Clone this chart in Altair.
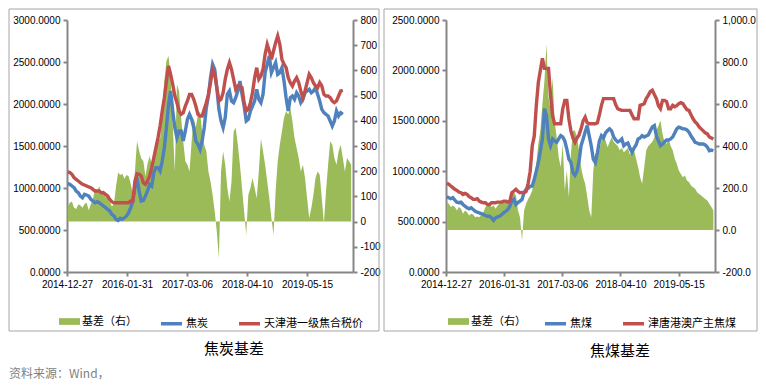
import altair as alt
import pandas as pd

GREEN = "#9BBB59"
BLUE = "#4F81BD"
RED = "#C0504D"
FONT_NUM = "Liberation Sans"
FONT_CJK = "Noto Sans CJK SC"

# ---------------- left panel: coke ----------------
coke_dates = pd.date_range("2015-01-01", periods=136, freq="14D")
coke_names = ["基差（右）", "焦炭", "天津港一级焦合税价"]
coke_basis = [
    60, 75, 80, 55, 50, 68, 65, 55, 70, 75,
    45, 70, 90, 130, 120, 140, 110, 125, 95, 110,
    80, 60, 70, 140, 195, 185, 190, 170, 185, 180,
    150, 110, 200, 320, 280, 250, 240, 180, 230, 260,
    226, 252, 279, 319, 332, 425, 558, 637, 657, 571,
    385, 199, 545, 518, 412, 319, 239, 226, 199, 319,
    412, 372, 425, 438, 358, 305, 279, 199, 159, 106,
    40, -40, -146, 199, 279, 226, 133, 80, 159, 358,
    372, 305, 226, 133, 40, -53, 106, 133, 173, 133,
    93, 199, 330, 279, 226, 159, 93, 13, -53, 120,
    239, 305, 358, 412, 438, 425, 452, 398, 332, 292,
    252, 199, 226, 173, 93, 13, 53, 106, 173, 199,
    186, 93, -7, 120, 226, 319, 305, 252, 226, 279,
    305, 252, 199, 252, 239, 226,
]
coke_futures = [
    1052, 1044, 1024, 1004, 964, 944, 905, 885, 925, 917,
    905, 865, 845, 825, 837, 825, 806, 786, 766, 746,
    726, 686, 667, 627, 615, 639, 627, 646, 667, 706,
    766, 845, 1004, 1123, 964, 845, 853, 905, 964, 1044,
    1024, 1182, 1242, 1242, 1202, 1321, 1480, 1718, 1996, 2155,
    1917, 1718, 1599, 1679, 1679, 1560, 1679, 1818, 1877, 1818,
    1718, 1560, 1520, 1460, 1560, 1718, 1956, 2095, 2313, 2473,
    2413, 2194, 1937, 1798, 1718, 1837, 2115, 2155, 2036, 2016,
    2075, 2155, 2274, 2115, 1976, 1798, 1818, 1917, 1976, 2036,
    2175, 2056, 2016, 2115, 2373, 2473, 2571, 2373, 2433, 2492,
    2353, 2373, 2433, 2274, 2075, 1917, 2075, 2095, 2056, 2135,
    2095, 2016, 2056, 2135, 2155, 2175, 2135, 2155, 2194, 2115,
    2036, 1937, 1897, 1877, 1857, 1798, 1738, 1798, 1917, 1857,
    1897, 1877, None, None, None, None,
]
coke_spot = [
    1190, 1185, 1163, 1123, 1103, 1083, 1063, 1044, 1036, 1024,
    1012, 1004, 984, 964, 964, 964, 944, 944, 925, 905,
    865, 837, 825, 825, 825, 825, 825, 825, 825, 825,
    845, 845, 1083, 1170, 1163, 1143, 1063, 1044, 1083, 1143,
    1242, 1361, 1480, 1600, 1740, 1917, 2075, 2274, 2452, 2353,
    2234, 2095, 2016, 1917, 1877, 1897, 1976, 2036, 2115, 2115,
    2056, 1976, 1877, 1857, 1857, 1937, 2016, 2115, 2254, 2413,
    2353, 2194, 2036, 2056, 2135, 2294, 2413, 2492, 2413, 2294,
    2175, 2214, 2214, 2194, 2016, 1917, 1937, 2016, 2135, 2313,
    2432, 2294, 2333, 2413, 2591, 2710, 2631, 2532, 2631, 2730,
    2810, 2710, 2532, 2473, 2433, 2313, 2254, 2214, 2274, 2313,
    2254, 2155, 2075, 2155, 2254, 2353, 2313, 2254, 2214, 2194,
    2254, 2214, 2115, 2095, 2095, 2075, 2036, 2016, 2036, 2095,
    2155, 2163, None, None, None, None,
]

# ---------------- right panel: coking coal ----------------
coal_dates = pd.date_range("2015-01-01", periods=132, freq="14D")
coal_names = ["基差（右）", "焦煤", "津唐港澳产主焦煤"]
coal_basis = [
    132, 125, 109, 117, 109, 93, 109, 101, 77, 93,
    85, 69, 77, 74, 61, 64, 61, 74, 85, 109,
    117, 125, 109, 117, 101, 117, 128, 137, 132, 140,
    128, 148, 172, 180, 164, 93, 61, -50, 93, 125,
    148, 164, 188, 251, 315, 410, 474, 600, 711, 886,
    632, 569, 727, 521, 442, 347, 299, 410, 188, 283,
    156, 362, 474, 473, 442, 378, 300, 251, 220, 160,
    93, 61, 283, 363, 378, 378, 426, 442, 426, 394,
    418, 442, 420, 410, 400, 380, 390, 370, 380, 390,
    360, 370, 380, 340, 300, 251, 220, 299, 378, 400,
    410, 420, 440, 474, 497, 521, 458, 418, 410, 434,
    400, 380, 340, 315, 283, 267, 251, 259, 236, 228,
    212, 204, 196, 180, 172, 164, 156, 148, 140, 125,
    109, 93,
]
coal_futures = [
    747, 737, 727, 737, 713, 693, 687, 693, 670, 653,
    637, 627, 637, 620, 603, 593, 587, 580, 570, 560,
    553, 553, 537, 513, 537, 547, 553, 570, 587, 603,
    620, 653, 703, 720, 670, 690, 703, 720, 790, 820,
    830, 850, 853, 920, 1000, 1087, 1200, 1320, 1620, 1553,
    1320, 1253, 1320, 1300, 1287, 1320, 1353, 1340, 1300, 1220,
    1120, 1087, 987, 960, 1000, 1100, 1253, 1320, 1390, 1453,
    1350, 1250, 1120, 1087, 1180, 1300, 1353, 1330, 1380, 1403,
    1420, 1400, 1340, 1310, 1290, 1300, 1320, 1253, 1270, 1280,
    1230, 1187, 1230, 1260, 1320, 1330, 1353, 1340, 1350, 1360,
    1400, 1440, 1453, 1350, 1300, 1253, 1270, 1290, 1310, 1310,
    1320, 1340, 1380, 1420, 1437, 1430, 1420, 1420, 1410, 1387,
    1350, 1320, 1287, 1280, 1270, 1270, 1270, 1260, 1240, 1203,
    1210, 1203,
]
coal_spot = [
    880, 870, 853, 837, 820, 810, 793, 787, 770, 780,
    770, 747, 737, 720, 720, 727, 703, 693, 687, 687,
    670, 670, 687, 687, 687, 693, 693, 693, 703, 703,
    693, 703, 787, 803, 820, 800, 787, 790, 787, 800,
    880, 1000, 1250, 1350, 1650, 1880, 2000, 2120, 2020, 2020,
    2020, 1753, 1550, 1470, 1470, 1470, 1470, 1620, 1703, 1703,
    1520, 1400, 1330, 1287, 1330, 1360, 1420, 1500, 1537, 1480,
    1470, 1470, 1470, 1470, 1480, 1560, 1653, 1720, 1720, 1720,
    1720, 1720, 1720, 1660, 1620, 1610, 1603, 1603, 1603, 1603,
    1603, 1560, 1520, 1520, 1520, 1653, 1660, 1670, 1720, 1753,
    1790, 1803, 1760, 1720, 1650, 1620, 1703, 1703, 1690, 1620,
    1620, 1653, 1640, 1650, 1670, 1680, 1670, 1640, 1610, 1603,
    1560, 1520, 1490, 1470, 1440, 1420, 1400, 1380, 1370, 1340,
    1330, 1320,
]

x_tick_dates = [(2014, 12, 27), (2016, 1, 31), (2017, 3, 6), (2018, 4, 10), (2019, 5, 15)]
x_start = (2014, 12, 27)


def dt(t):
    return alt.DateTime(year=t[0], month=t[1], date=t[2])


one = pd.DataFrame({"k": [0]})


def panel(dates, names, basis, fut, spot, x_end, w, h,
          left_dom, left_vals, left_fmt, right_dom, right_vals, right_fmt,
          fill_lx, stroke_lx, leg_y, box, title, title_xy, source_xy=None):
    basis_df = pd.DataFrame({"date": dates, "value": basis, "series": names[0]})
    line_df = pd.concat([
        pd.DataFrame({"date": dates, "value": fut, "series": names[1]}),
        pd.DataFrame({"date": dates, "value": spot, "series": names[2]}),
    ], ignore_index=True)

    x_enc = alt.X(
        "date:T",
        scale=alt.Scale(domain=[dt(x_start), dt(x_end)]),
        axis=alt.Axis(values=[dt(t) for t in x_tick_dates], format="%Y-%m-%d",
                      title=None, labelFlush=False, labelOverlap=False),
    )

    right_expr = "(datum.value < 0 ? '-' : '') + format(abs(datum.value), '%s')" % right_fmt

    area = alt.Chart(basis_df).mark_area().encode(
        x=x_enc,
        y=alt.Y("value:Q",
                scale=alt.Scale(domain=right_dom, nice=False, zero=False),
                axis=alt.Axis(orient="right", values=right_vals, labelExpr=right_expr,
                              title=None, labelFlush=False)),
        y2=alt.datum(0),
        fill=alt.Fill("series:N",
                      scale=alt.Scale(domain=[names[0]], range=[GREEN]),
                      legend=alt.Legend(title=None, orient="none", legendX=fill_lx, legendY=leg_y,
                                        direction="horizontal", padding=0,
                                        symbolType="M-1,-0.32H1V0.32H-1Z", symbolSize=441,
                                        symbolStrokeWidth=0, labelFont=FONT_CJK,
                                        labelFontSize=11, labelColor="#000000", labelOffset=2)),
    )

    lines = alt.Chart(line_df).mark_line(strokeWidth=3.4).encode(
        x=x_enc,
        y=alt.Y("value:Q",
                scale=alt.Scale(domain=left_dom, nice=False, zero=False),
                axis=alt.Axis(orient="left", values=left_vals, format=left_fmt,
                              title=None, labelFlush=False)),
        stroke=alt.Stroke("series:N",
                          scale=alt.Scale(domain=names[1:], range=[BLUE, RED]),
                          legend=alt.Legend(title=None, orient="none", legendX=stroke_lx, legendY=leg_y,
                                            direction="horizontal", padding=0,
                                            symbolType="stroke", symbolSize=441,
                                            symbolStrokeWidth=3.5, columnPadding=24,
                                            labelFont=FONT_CJK, labelFontSize=11,
                                            labelColor="#000000", labelOffset=2)),
    )

    frame = alt.Chart(one).mark_rect(fill="transparent", stroke="#a6a6a6", strokeWidth=1).encode(
        x=alt.value(box[0]), x2=alt.value(box[1]), y=alt.value(box[2]), y2=alt.value(box[3])
    )
    title_txt = alt.Chart(one).mark_text(
        text=title, font=FONT_CJK, fontSize=15, color="#000000", align="center", baseline="middle"
    ).encode(x=alt.value(title_xy[0]), y=alt.value(title_xy[1]))

    layers = [frame, area, lines, title_txt]
    if source_xy is not None:
        src = alt.Chart(one).mark_text(
            text="资料来源：Wind，", font=FONT_CJK, fontSize=12, color="#7f7f7f",
            align="left", baseline="middle"
        ).encode(x=alt.value(source_xy[0]), y=alt.value(source_xy[1]))
        layers.append(src)

    return alt.layer(*layers).resolve_scale(y="independent").properties(width=w, height=h)


left = panel(
    coke_dates, coke_names, coke_basis, coke_futures, coke_spot, (2020, 3, 17), 286, 252,
    [0, 3000], [0, 500, 1000, 1500, 2000, 2500, 3000], ".4f",
    [-200, 800], [-200, -100, 0, 100, 200, 300, 400, 500, 600, 700, 800], "d",
    -8, 92, 291, (-58, 312, -11, 311), "焦炭基差", (167, 329), source_xy=(-58, 354),
)
right = panel(
    coal_dates, coal_names, coal_basis, coal_futures, coal_spot, (2020, 1, 20), 269, 252,
    [0, 2500], [0, 500, 1000, 1500, 2000, 2500], ".4f",
    [-200, 1000], [-200, 0, 200, 400, 600, 800, 1000], ",.1f",
    2, 97, 291, (-62, 311, -11, 311), "焦煤基差", (174, 331),
)

chart = alt.hconcat(left, right, spacing=93, bounds="flush").resolve_scale(
    fill="independent", stroke="independent", x="independent"
).resolve_legend(
    fill="independent", stroke="independent"
).configure_view(
    stroke=None
).configure_axis(
    grid=False, domainColor="#868686", domainWidth=2, tickColor="#868686", tickWidth=2,
    tickSize=4, labelColor="#000000", labelFont=FONT_NUM, labelFontSize=10, labelPadding=3,
).properties(padding=0)

chart.save("out.html", embed_options={"renderer": "svg", "actions": False})
